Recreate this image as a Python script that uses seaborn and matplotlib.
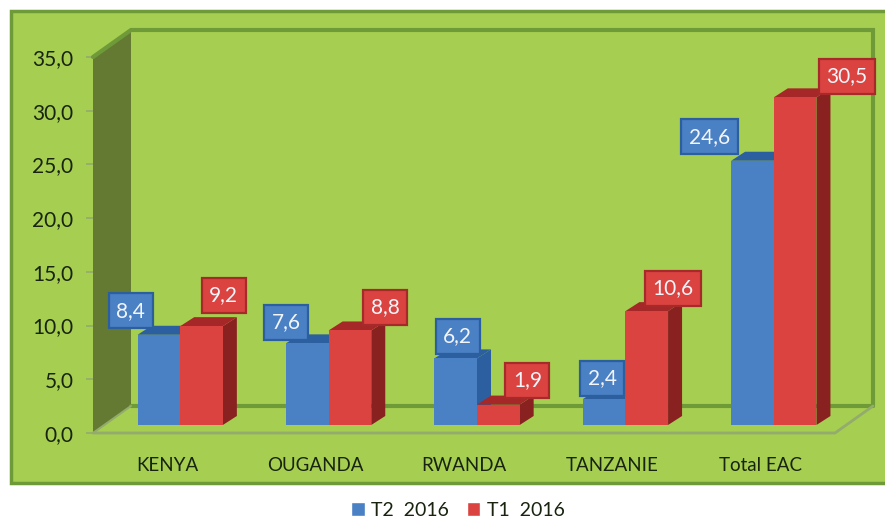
import matplotlib
matplotlib.use("Agg")
import matplotlib.pyplot as plt
from matplotlib.patches import Rectangle, Polygon
import pandas as pd
import seaborn as sns

categories = ["KENYA", "OUGANDA", "RWANDA", "TANZANIE", "Total EAC"]
t2_2016 = [8.4, 7.6, 6.2, 2.4, 24.6]
t1_2016 = [9.2, 8.8, 1.9, 10.6, 30.5]
series_names = ["T2  2016", "T1  2016"]
y_ticks = [0, 5, 10, 15, 20, 25, 30, 35]

# label box offsets from the top centre of each bar, in pixels (style only)
t2_offsets = [(-28, 24), (-21, 21), (2, 22), (-2, 21), (-43, 24)]
t1_offsets = [(22, 31), (35, 23), (29, 24), (26, 23), (52, 21)]

BG = "#a6cf52"
BORDER = "#6f9a38"
WALL = "#647a33"
GRID = "#93ab6c"
TXT = "#18240f"
FRONT = ["#4a80c4", "#da4340"]
TOP = ["#2c5f9f", "#a52727"]
SIDE = ["#2c5f9f", "#8a2121"]
BOX_EDGE = ["#2b5f9e", "#a72a2a"]

sns.set_style("white")
plt.rcParams["font.family"] = ["Lato", "DejaVu Sans"]

W, H = 885, 519
fig = plt.figure(figsize=(W / 100, H / 100), dpi=100, facecolor="white")
fig.add_artist(Rectangle((11 / W, (H - 483) / H), 880 / W, 472 / H, transform=fig.transFigure,
                         facecolor=BG, edgecolor=BORDER, linewidth=2.5, zorder=-5))

L, R, Y0, Y35 = 93, 835, 433, 57
ax = fig.add_axes([L / W, (H - Y0) / H, (R - L) / W, (Y0 - Y35) / H])
ax.patch.set_alpha(0)
df = pd.DataFrame({
    "pays": categories * 2,
    "valeur": t2_2016 + t1_2016,
    "periode": [series_names[0]] * 5 + [series_names[1]] * 5,
})

# bars sit in a second axes, pushed into the depth of the floor
bx = fig.add_axes([(L + 13) / W, (H - Y0 + 8) / H, (R - L) / W, (Y0 - Y35) / H])
bx.patch.set_alpha(0)
sns.barplot(data=df, x="pays", y="valeur", hue="periode", order=categories, hue_order=series_names,
            palette=FRONT, width=0.575, gap=0, saturation=1, legend=False, linewidth=0, ax=bx)

for a in (ax, bx):
    a.set_xlim(-0.5, 4.5)
    a.set_ylim(0, 35)

px_x = 5 / (R - L)
px_y = 35 / (Y0 - Y35)

# room: walls and floor outlines
wx, wy = 38 * px_x, 27 * px_y
x0, x1 = -0.5, 4.5
ax.add_patch(Polygon([(x0, 0), (x0 + wx, wy), (x0 + wx, 35 + wy), (x0, 35)], closed=True,
                     facecolor=WALL, edgecolor="none", clip_on=False, zorder=1))
ax.plot([x0, x0 + wx, x0 + wx, x1 + wx, x1 + wx], [35, 35 + wy, 35 + wy, 35 + wy, wy],
        color=BORDER, lw=3, clip_on=False, zorder=1, solid_joinstyle="miter")
ax.plot([x0 + wx, x1 + wx], [wy, wy], color=BORDER, lw=3, clip_on=False, zorder=1)
ax.plot([x0, x0 + wx], [0, wy], color=GRID, lw=1.5, clip_on=False, zorder=1)
ax.plot([x0, x1, x1 + wx], [0, 0, wy], color=GRID, lw=2, clip_on=False, zorder=1)

ax.set_yticks(y_ticks)
ax.set_yticklabels([f"{v:.1f}".replace(".", ",") for v in y_ticks], fontsize=15, color=TXT)
ax.set_xticks(range(len(categories)))
ax.set_xticklabels(categories, fontsize=13.5, color=TXT)
ax.set_xticks([i - 0.5 for i in range(len(categories) + 1)], minor=True)
ax.tick_params(axis="x", which="major", length=0, pad=17)
ax.tick_params(axis="x", which="minor", length=5, color=GRID, width=1.2, direction="out")
ax.tick_params(axis="y", length=5, color=GRID, width=1.2, pad=9, direction="out", left=True)
ax.set_xlabel("")
ax.set_ylabel("")
for s in ax.spines.values():
    s.set_visible(False)

bx.axis("off")

# depth faces of each bar, then value boxes
dx, dy = 14 * px_x, 9 * px_y
series = [t2_2016, t1_2016]
offsets = [t2_offsets, t1_offsets]
for k, cont in enumerate(bx.containers):
    for i, bar in enumerate(cont):
        xa, w, h = bar.get_x(), bar.get_width(), bar.get_height()
        xb = xa + w
        z = 1.5 + 0.5 * k
        bar.set_zorder(3)
        bx.add_patch(Polygon([(xb, 0), (xb + dx, dy), (xb + dx, h + dy), (xb, h)], closed=True,
                             facecolor=SIDE[k], edgecolor="none", clip_on=False, zorder=z))
        bx.add_patch(Polygon([(xa, h), (xa + dx, h + dy), (xb + dx, h + dy), (xb, h)], closed=True,
                             facecolor=TOP[k], edgecolor="none", clip_on=False, zorder=z))
        bx.annotate(f"{series[k][i]:.1f}".replace(".", ","), xy=(xa + w / 2, h),
                    xytext=offsets[k][i], textcoords="offset pixels", ha="center", va="center",
                    fontsize=15, color="#f2f5fa", zorder=6, annotation_clip=False,
                    bbox=dict(boxstyle="square,pad=0.36", facecolor=FRONT[k],
                              edgecolor=BOX_EDGE[k], linewidth=1.6))

handles = [Rectangle((0, 0), 1, 1, facecolor=c) for c in FRONT]
fig.legend(handles, series_names, loc="center", bbox_to_anchor=(458 / W, (H - 510) / H), ncol=2,
           frameon=False, fontsize=14, handlelength=0.7, handleheight=0.7, handletextpad=0.35,
           columnspacing=0.9, labelcolor=TXT)

fig.savefig("out.png", dpi=100, facecolor="white")
